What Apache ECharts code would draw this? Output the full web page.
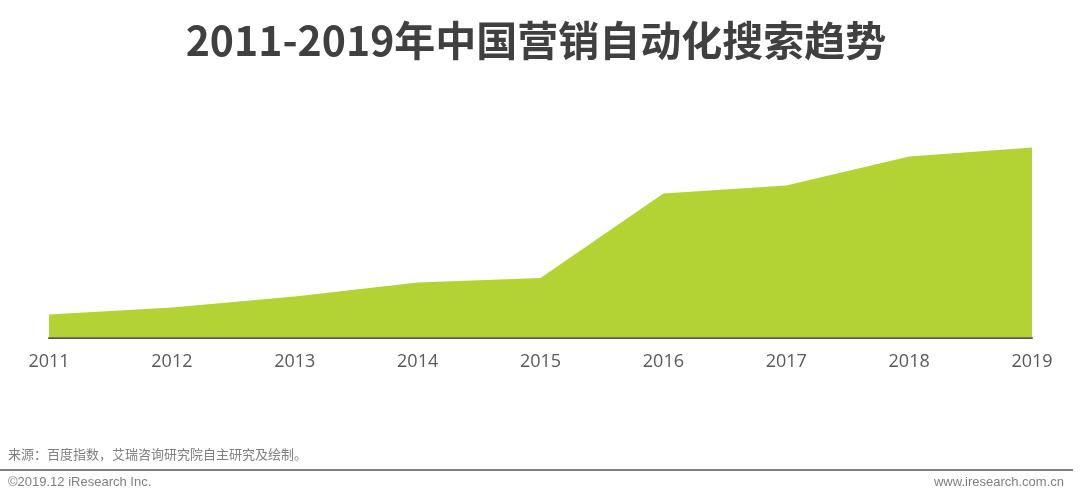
<!DOCTYPE html>
<html><head><meta charset="utf-8">
<script src="https://cdn.jsdelivr.net/npm/echarts@6/dist/echarts.min.js"></script>
<style>html,body{margin:0;padding:0;background:#fff}#c{width:1080px;height:502px}</style>
</head><body><div id="c"></div>
<script>
const categories = ['2011','2012','2013','2014','2015','2016','2017','2018','2019'];
const searchIndex = [23, 30, 41, 55, 59.5, 144, 152, 181, 190];
const titleText = '2011-2019年中国营销自动化搜索趋势';
const sourceText = '来源：百度指数，艾瑞咨询研究院自主研究及绘制。';
const copyrightText = '©2019.12 iResearch Inc.';
const siteText = 'www.iresearch.com.cn';

const chart = echarts.init(document.getElementById('c'));
chart.setOption({
  animation: false,
  title: {
    text: titleText, left: 531, top: 15, textAlign: 'center',
    textStyle: {fontFamily: 'Noto Sans CJK SC', fontWeight: 'bold', fontSize: 41, color: '#404040'}
  },
  grid: {left: 49, right: 48, top: 137.5, bottom: 164.5},
  xAxis: {
    type: 'category', data: categories, boundaryGap: false,
    axisLine: {lineStyle: {color: '#595959', width: 2}},
    axisTick: {show: false},
    axisLabel: {margin: 15, fontSize: 18, color: '#595959', fontFamily: 'Open Sans'}
  },
  yAxis: {type: 'value', min: 0, max: 200, show: false, splitLine: {show: false}},
  series: [{
    type: 'line', data: searchIndex, symbol: 'none',
    lineStyle: {width: 0}, areaStyle: {color: '#b3d334', opacity: 1}
  }],
  graphic: [
    {type: 'text', left: 8, top: 448, style: {text: sourceText, font: '13px "Noto Sans CJK SC"', fill: '#7f7f7f'}},
    {type: 'line', shape: {x1: 0, y1: 470, x2: 1073, y2: 470}, style: {stroke: '#808080', lineWidth: 2}},
    {type: 'text', left: 8, top: 476, style: {text: copyrightText, font: '13px "Liberation Sans"', fill: '#7f7f7f'}},
    {type: 'text', right: 16, top: 476, style: {text: siteText, font: '13px "Liberation Sans"', fill: '#7f7f7f'}}
  ]
});
</script></body></html>
